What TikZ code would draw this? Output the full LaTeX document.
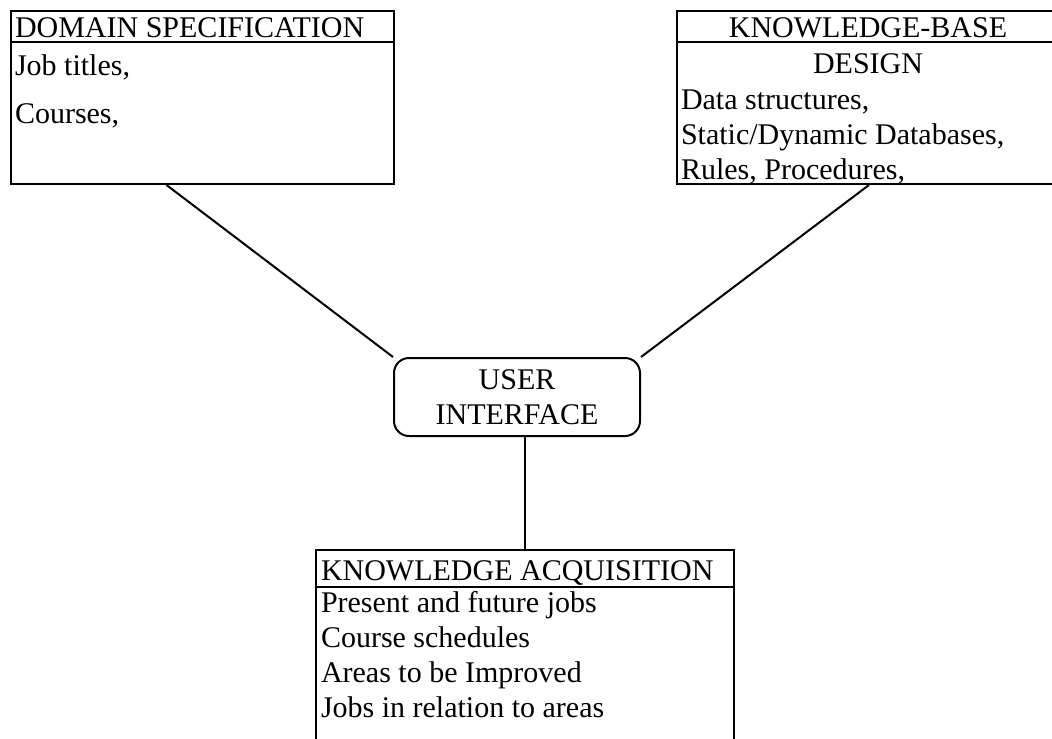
\documentclass[tikz,border=0pt]{standalone}
\usepackage{fontspec}
\setmainfont{Liberation Serif}
\usetikzlibrary{positioning}

\begin{document}
\begin{tikzpicture}[
        x=0.5pt, y=-0.5pt,
        every node/.style={font=\fontsize{15pt}{17.5pt}\selectfont},
        box/.style={draw, line width=1pt, inner sep=0pt, anchor=north west},
        txt/.style={inner sep=0pt, anchor=base west, align=left},
        line width=1pt
      ]
      \useasboundingbox (0,0) rectangle (1052,738);
      \clip (0,0) rectangle (1052,738);
      % boxes
      \node[box, minimum width=191.5pt, minimum height=86.5pt] (dom) at (10,10) {};
      \node[box, minimum width=192pt, minimum height=86.5pt] (kb) at (676,10) {};
      \node[box, rounded corners=7.5pt, minimum width=123pt, minimum height=39pt, align=center] (ui) at (393,357) {USER\\INTERFACE};
      \node[box, minimum width=209pt, minimum height=100pt] (ka) at (315,549) {};
      % header rules
      \draw ([yshift=-16pt]dom.north west) -- ([yshift=-16pt]dom.north east);
      \draw ([yshift=-16pt]kb.north west) -- ([yshift=-16pt]kb.north east);
      \draw ([yshift=-19pt]ka.north west) -- ([yshift=-19pt]ka.north east);
      % texts (base = last line)
      \node[txt] (domhead) at (14,38) {DOMAIN SPECIFICATION};
      \node[txt] (dombody) at (14,123) {Job titles,\\[6.5pt]Courses,};
      \node[inner sep=0pt, anchor=base] (kbhead) at (868,38) {KNOWLEDGE-BASE};
      \node[inner sep=0pt, anchor=base] (kbsub) at (868,74) {DESIGN};
      \node[txt] (kbbody) at (680,179) {Data structures,\\Static/Dynamic Databases,\\Rules, Procedures,};
      \node[txt] (kahead) at (320,580) {KNOWLEDGE ACQUISITION};
      \node[txt] (kabody) at (320,717) {Present and future jobs\\Course schedules\\Areas to be Improved\\Jobs in relation to areas};
      % links
      \draw ([xshift=-18pt]dom.south) -- (ui.north west);
      \draw (kb.south) -- (ui.north east);
      \draw (ui.south -| ka.north) -- (ka.north);
    \end{tikzpicture}
\end{document}
